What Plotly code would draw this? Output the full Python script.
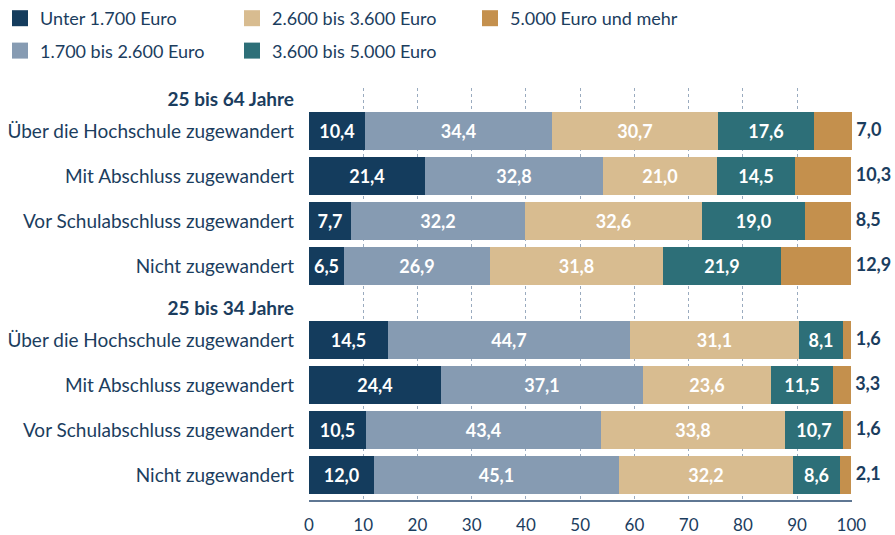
import plotly.graph_objects as go

# Einkommensklassen (Legende / Stapelreihenfolge)
classes = ['Unter 1.700 Euro', '1.700 bis 2.600 Euro', '2.600 bis 3.600 Euro',
           '3.600 bis 5.000 Euro', '5.000 Euro und mehr']
colors = ['#143c5d', '#869bb2', '#d8bc90', '#2d6f78', '#c4904d']

groups = ['25 bis 64 Jahre', '25 bis 34 Jahre']
rows = ['Über die Hochschule zugewandert', 'Mit Abschluss zugewandert',
        'Vor Schulabschluss zugewandert', 'Nicht zugewandert']

# Anteile in %, je Gruppe: eine Liste pro Einkommensklasse (in Reihenfolge der rows)
g1_unter_1700 = [10.4, 21.4, 7.7, 6.5]
g1_1700_2600 = [34.4, 32.8, 32.2, 26.9]
g1_2600_3600 = [30.7, 21.0, 32.6, 31.8]
g1_3600_5000 = [17.6, 14.5, 19.0, 21.9]
g1_ab_5000 = [7.0, 10.3, 8.5, 12.9]

g2_unter_1700 = [14.5, 24.4, 10.5, 12.0]
g2_1700_2600 = [44.7, 37.1, 43.4, 45.1]
g2_2600_3600 = [31.1, 23.6, 33.8, 32.2]
g2_3600_5000 = [8.1, 11.5, 10.7, 8.6]
g2_ab_5000 = [1.6, 3.3, 1.6, 2.1]

series = [g1_unter_1700 + g2_unter_1700,
          g1_1700_2600 + g2_1700_2600,
          g1_2600_3600 + g2_2600_3600,
          g1_3600_5000 + g2_3600_5000,
          g1_ab_5000 + g2_ab_5000]

TXT = '#1b3d5e'
FONT = 'Source Sans Pro, Lato, sans-serif'

# vertical layout (pixel-like units on a reversed y axis)
header_pos = [11, 220]
pitch = 45
ypos = []
for h in header_pos:
    ypos += [h + 32 + pitch * i for i in range(len(rows))]

fig = go.Figure()
for k, (name, vals, col) in enumerate(zip(classes, series, colors)):
    last = k == len(classes) - 1
    fig.add_trace(go.Bar(
        x=vals, y=ypos, orientation='h', name=name,
        marker=dict(color=col, line=dict(width=0)),
        width=38,
        texttemplate='' if last else '%{x:.1f}',
        textposition='inside',
        insidetextanchor='middle', textangle=0, constraintext='none',
        textfont=dict(family=FONT, size=18, color='white', weight='bold'),
        cliponaxis=False, showlegend=False, hoverinfo='skip',
    ))

# value of the top class written right of each bar
totals = [sum(v) for v in zip(*series)]
fig.add_trace(go.Scatter(
    x=totals, y=ypos, mode='text', text=series[-1],
    texttemplate=' %{text:.1f}', textposition='middle right',
    textfont=dict(family=FONT, size=18, color=TXT, weight='bold'),
    cliponaxis=False, showlegend=False, hoverinfo='skip',
))

# legend entries: three columns, each its own legend
legend_of = ['legend', 'legend', 'legend2', 'legend2', 'legend3']
for name, col, lg in zip(classes, colors, legend_of):
    fig.add_trace(go.Scatter(
        x=[None], y=[None], mode='markers', name=name, legend=lg,
        legendgroup=name,
        marker=dict(symbol='square', size=20, color=col),
    ))

tickvals = []
ticktext = []
for g, h, i in zip(groups, header_pos, range(2)):
    tickvals.append(h)
    ticktext.append(f'<b>{g}</b>')
    tickvals += ypos[i * len(rows):(i + 1) * len(rows)]
    ticktext += rows

legend_style = dict(orientation='v', xref='container', yref='container',
                    xanchor='left', yanchor='top', y=1.0,
                    font=dict(family=FONT, size=18, color=TXT),
                    tracegroupgap=6, itemsizing='trace', itemwidth=30,
                    bgcolor='rgba(0,0,0,0)', borderwidth=0,
                    traceorder='grouped')

fig.update_layout(
    width=895, height=535,
    margin=dict(l=309, r=43, t=88, b=35, autoexpand=False),
    barmode='stack', bargap=0,
    separators=',.',
    plot_bgcolor='white', paper_bgcolor='white',
    font=dict(family=FONT, size=18, color=TXT),
    legend=dict(legend_style, x=0.0),
    legend2=dict(legend_style, x=232 / 895),
    legend3=dict(legend_style, x=470 / 895),
    xaxis=dict(range=[0, 100.12], tickvals=list(range(0, 101, 10)),
               showgrid=True, gridcolor='#9aabbf', griddash='dot', gridwidth=1,
               zeroline=False, showline=True, linecolor='#5f7793', linewidth=2,
               ticks='', tickfont=dict(size=17, color=TXT), ticklabelstandoff=9,
               automargin=False, fixedrange=True),
    yaxis=dict(range=[412, 0], tickvals=tickvals, ticktext=ticktext,
               showgrid=False, zeroline=False, showline=False, ticks='',
               tickfont=dict(size=19, color=TXT), ticklabelstandoff=14,
               automargin=False, fixedrange=True),
)

fig.write_html('out.html', config={'displayModeBar': False},
               post_script="document.body.style.margin='0';")
